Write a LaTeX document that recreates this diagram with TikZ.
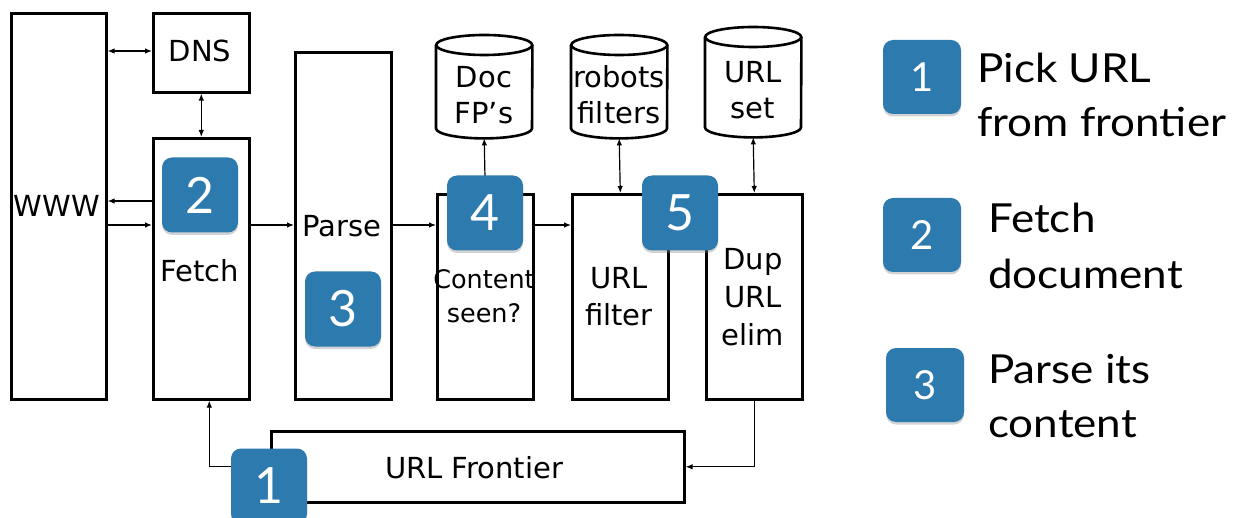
\documentclass[tikz,border=0pt]{standalone}
\usepackage{fontspec}
\setmainfont{DejaVu Sans}
\newfontfamily\gill{Lato}
\newfontfamily\gillwide[FakeStretch=1.1]{Lato}
\usetikzlibrary{arrows.meta,shadows}
\definecolor{badgeblue}{RGB}{45,122,175}
\begin{document}
\begin{tikzpicture}[x=1pt,y=1pt,
  box/.style={draw, line width=2.6pt, inner sep=0pt, anchor=north west},
  cylbox/.style={draw=none, inner sep=0pt, anchor=north west, minimum width=96pt},
  lbl/.style={font=\fontsize{29}{35}\selectfont, inner sep=0pt, anchor=base},
  smalllbl/.style={font=\fontsize{25.5}{30}\selectfont, inner sep=0pt, anchor=base},
  legtxt/.style={font=\gillwide\fontsize{40}{48}\selectfont, inner sep=0pt, anchor=base west},
  arr/.style={line width=1.2pt, -{Latex[length=7pt,width=5.5pt]}},
  arrtwo/.style={line width=1.2pt, {Latex[length=7pt,width=5.5pt]}-{Latex[length=7pt,width=5.5pt]}},
  badge/.style={fill=badgeblue, rounded corners=10pt, minimum width=76pt, minimum height=75pt,
    inner sep=0pt, text=white, font=\gill\fontsize{50}{50}\selectfont,
    drop shadow={opacity=0.35, shadow xshift=0pt, shadow yshift=-2.5pt}},
  legbadge/.style={badge, minimum width=78pt, minimum height=74pt, font=\gill\fontsize{40}{40}\selectfont}
]
\useasboundingbox (0,0) rectangle (1238,-518);

% boxes
\node[box, minimum width=95pt, minimum height=386pt] (www) at (10,-12) {};
\node[box, minimum width=96pt, minimum height=79pt] (dns) at (152,-12) {};
\node[box, minimum width=96pt, minimum height=261pt] (fetch) at (152,-137) {};
\node[box, minimum width=96pt, minimum height=347pt] (parse) at (294,-51) {};
\node[box, minimum width=96pt, minimum height=205pt] (content) at (436,-193) {};
\node[box, minimum width=96pt, minimum height=205pt] (urlf) at (571,-193) {};
\node[box, minimum width=96pt, minimum height=205pt] (dup) at (705,-193) {};
\node[box, minimum width=413pt, minimum height=71pt] (frontier) at (270,-430) {};

% cylinders
\newcommand{\cylout}[1]{%
  \draw[line width=2.6pt] ([yshift=-10pt]#1.north) ellipse [x radius=48pt, y radius=10pt];
  \draw[line width=2.6pt] ([yshift=-10pt]#1.north west) -- ([yshift=10pt]#1.south west)
     arc[start angle=180, end angle=360, x radius=48pt, y radius=10pt] -- ([yshift=-10pt]#1.north east);}
\node[cylbox, minimum height=103pt] (docfp) at (436,-35) {};
\node[cylbox, minimum height=103pt] (robots) at (571,-35) {};
\node[cylbox, minimum height=110pt] (urlset) at (705,-27) {};
\cylout{docfp}
\cylout{robots}
\cylout{urlset}

% labels
\node[lbl] (twww) at (57,-217) {WWW};
\node[lbl] (tdns) at (200,-62) {DNS};
\node[lbl] (tfetch) at (200,-282) {Fetch};
\node[lbl] (tparse) at (342,-237) {Parse};
\node[lbl] (tdoc) at (484,-88) {Doc};
\node[lbl] (tfp) at (484,-124) {FP’s};
\node[lbl] (trob) at (619,-88) {robots};
\node[lbl] (tfil) at (619,-124) {filters};
\node[lbl] (turl) at (753,-83) {URL};
\node[lbl] (tset) at (753,-119) {set};
\node[smalllbl] (tcont) at (484,-288) {Content};
\node[smalllbl] (tseen) at (484,-322) {seen?};
\node[lbl] (tu1) at (619,-288) {URL};
\node[lbl] (tu2) at (619,-325) {filter};
\node[lbl] (td1) at (753,-270) {Dup};
\node[lbl] (td2) at (753,-307) {URL};
\node[lbl] (td3) at (753,-345) {elim};
\node[lbl] (tfr) at (474,-478) {URL Frontier};

% connectors
\coordinate (y51) at (0,-51);
\coordinate (y201) at (0,-201);
\coordinate (y225) at (0,-225);
\draw[arrtwo] (www.east |- y51) -- (dns.west |- y51);
\draw[arrtwo] (dns.south) -- (fetch.north);
\draw[arr] (fetch.west |- y201) -- (www.east |- y201);
\draw[arr] (www.east |- y225) -- (fetch.west |- y225);
\draw[arr] (fetch.east |- y225) -- (parse.west |- y225);
\draw[arr] (parse.east |- y225) -- (content.west |- y225);
\draw[arr] (content.east |- y225) -- (urlf.west |- y225);
\draw[arr] (content.north) -- (docfp.south);
\draw[arrtwo] (robots.south) -- (urlf.north);
\draw[arrtwo] (urlset.south) -- (dup.north);
\draw[arr] (dup.south) |- (frontier.east);
\draw[arr] (frontier.west) -| ([xshift=8pt]fetch.south);

% badges in diagram
\node[badge] (b2) at (200,-195) {2};
\node[badge] (b3) at (343,-309) {3};
\node[badge] (b1) at (269,-486) {1};
\node[badge] (b4) at (485,-213) {4};
\node[badge] (b5) at (680,-213) {5};

% legend
\node[legbadge] (l1) at (922,-77) {1};
\node[legbadge] (l2) at (922,-235) {2};
\node[legbadge] (l3) at (925,-385) {3};
\node[legtxt] (lt1a) at (977,-83) {Pick URL};
\node[legtxt] (lt1b) at (977,-137) {from frontier};
\node[legtxt] (lt2a) at (988,-233) {Fetch};
\node[legtxt] (lt2b) at (988,-288) {document};
\node[legtxt] (lt3a) at (988,-383) {Parse its};
\node[legtxt] (lt3b) at (988,-437) {content};
\end{tikzpicture}
\end{document}
